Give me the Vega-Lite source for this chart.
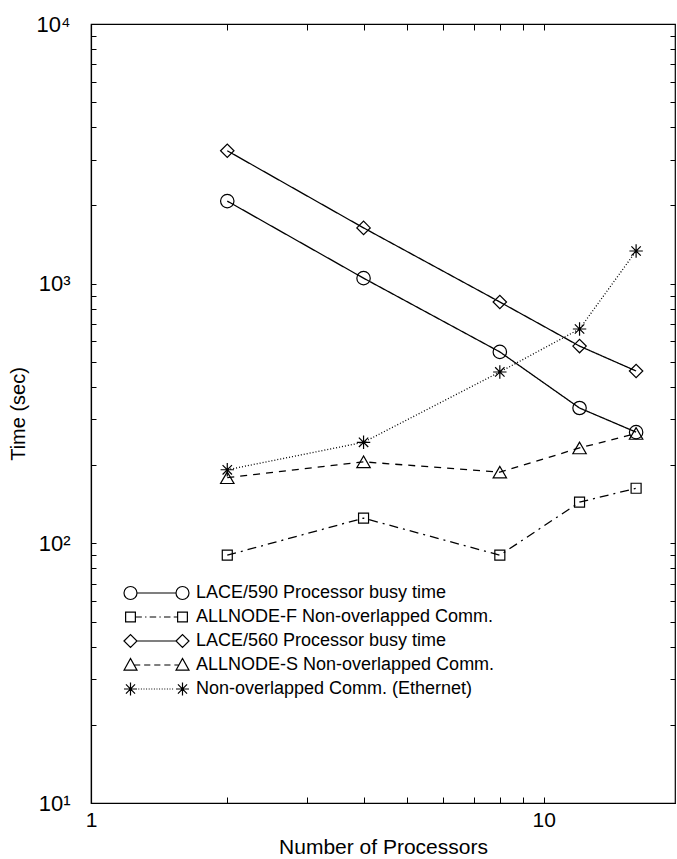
{
  "$schema": "https://vega.github.io/schema/vega-lite/v6.json",
  "width": 584,
  "height": 779,
  "autosize": {"type": "none"},
  "padding": {"left": 91, "top": 24, "right": 2, "bottom": 56},
  "background": "white",
  "config": {
    "font": "Liberation Sans",
    "view": {"stroke": "black", "strokeWidth": 1.2},
    "axis": {"grid": false, "domainColor": "black", "domainWidth": 1.2, "tickColor": "black", "tickWidth": 1, "labelColor": "black", "titleColor": "black", "labelFont": "Liberation Sans", "titleFont": "Liberation Sans", "titleFontWeight": "normal"}
  },
  "data": {
    "values": [
      {"n": 2, "t": 2080, "s": "LACE/590 Processor busy time"},
      {"n": 4, "t": 1050, "s": "LACE/590 Processor busy time"},
      {"n": 8, "t": 546, "s": "LACE/590 Processor busy time"},
      {"n": 12, "t": 332, "s": "LACE/590 Processor busy time"},
      {"n": 16, "t": 268, "s": "LACE/590 Processor busy time"},
      {"n": 2, "t": 90, "s": "ALLNODE-F Non-overlapped Comm."},
      {"n": 4, "t": 125, "s": "ALLNODE-F Non-overlapped Comm."},
      {"n": 8, "t": 90, "s": "ALLNODE-F Non-overlapped Comm."},
      {"n": 12, "t": 144, "s": "ALLNODE-F Non-overlapped Comm."},
      {"n": 16, "t": 163, "s": "ALLNODE-F Non-overlapped Comm."},
      {"n": 2, "t": 3250, "s": "LACE/560 Processor busy time"},
      {"n": 4, "t": 1640, "s": "LACE/560 Processor busy time"},
      {"n": 8, "t": 850, "s": "LACE/560 Processor busy time"},
      {"n": 12, "t": 575, "s": "LACE/560 Processor busy time"},
      {"n": 16, "t": 461, "s": "LACE/560 Processor busy time"},
      {"n": 2, "t": 179, "s": "ALLNODE-S Non-overlapped Comm."},
      {"n": 4, "t": 206, "s": "ALLNODE-S Non-overlapped Comm."},
      {"n": 8, "t": 188, "s": "ALLNODE-S Non-overlapped Comm."},
      {"n": 12, "t": 233, "s": "ALLNODE-S Non-overlapped Comm."},
      {"n": 16, "t": 265, "s": "ALLNODE-S Non-overlapped Comm."},
      {"n": 2, "t": 192, "s": "Non-overlapped Comm. (Ethernet)"},
      {"n": 4, "t": 245, "s": "Non-overlapped Comm. (Ethernet)"},
      {"n": 8, "t": 457, "s": "Non-overlapped Comm. (Ethernet)"},
      {"n": 12, "t": 669, "s": "Non-overlapped Comm. (Ethernet)"},
      {"n": 16, "t": 1336, "s": "Non-overlapped Comm. (Ethernet)"}
    ]
  },
  "resolve": {"axis": {"x": "independent", "y": "independent"}, "scale": {"shape": "independent"}, "legend": {"shape": "independent"}},
  "layer": [
    {
      "mark": {"type": "line", "color": "black", "strokeWidth": 1.3},
      "encoding": {
        "x": {"field": "n", "type": "quantitative", "scale": {"type": "log", "domain": [1, 19.5], "nice": false, "zero": false},
          "axis": {"orient": "bottom", "title": "Number of Processors", "titleFontSize": 21, "titlePadding": 6, "values": [1, 2, 3, 4, 5, 6, 7, 8, 9, 10], "labelExpr": "datum.value === 1 ? '1' : datum.value === 10 ? '10' : ''", "labelFontSize": 21, "tickSize": -6, "labelPadding": 12, "labelFlush": false}},
        "y": {"field": "t", "type": "quantitative", "scale": {"type": "log", "domain": [10, 10000], "nice": false, "zero": false},
          "axis": {"orient": "left", "title": "Time (sec)", "titleFontSize": 20, "titlePadding": 8, "values": [10, 20, 30, 40, 50, 60, 70, 80, 90, 100, 200, 300, 400, 500, 600, 700, 800, 900, 1000, 2000, 3000, 4000, 5000, 6000, 7000, 8000, 9000, 10000], "labelExpr": "datum.value === 10 ? '10¹' : datum.value === 100 ? '10²' : datum.value === 1000 ? '10³' : datum.value === 10000 ? '10⁴' : ''", "labelFontSize": 22, "tickSize": -5, "labelPadding": 26, "labelFlush": false}},
        "detail": {"field": "s"},
        "strokeDash": {"field": "s", "type": "nominal", "legend": null,
          "scale": {"range": [[9, 5, 2, 5], [7, 6], [1, 0], [1, 0], [1, 2]]}}
      }
    },
    {
      "mark": {"type": "point", "filled": false, "color": "black", "strokeWidth": 1.2, "opacity": 1},
      "encoding": {
        "x": {"field": "n", "type": "quantitative", "scale": {"type": "log", "domain": [1, 19.5], "nice": false, "zero": false}, "axis": null},
        "y": {"field": "t", "type": "quantitative", "scale": {"type": "log", "domain": [10, 10000], "nice": false, "zero": false}, "axis": null},
        "size": {"condition": {"test": "datum.s === 'ALLNODE-F Non-overlapped Comm.'", "value": 100}, "value": 180},
        "shape": {"field": "s", "type": "nominal", "legend": null,
          "scale": {"range": ["square", "triangle-up", "diamond", "circle", "M-1,0H1M0,-1V1M-0.7,-0.7L0.7,0.7M-0.7,0.7L0.7,-0.7"]}}
      }
    },
    {
      "mark": {"type": "point", "opacity": 0},
      "encoding": {
        "x": {"field": "n", "type": "quantitative", "scale": {"type": "log", "domain": [1, 19.5], "nice": false, "zero": false},
          "axis": {"orient": "top", "title": null, "labels": false, "domain": false, "values": [1, 2, 3, 4, 5, 6, 7, 8, 9, 10], "tickSize": -6}},
        "y": {"field": "t", "type": "quantitative", "scale": {"type": "log", "domain": [10, 10000], "nice": false, "zero": false},
          "axis": {"orient": "right", "title": null, "labels": false, "domain": false, "values": [10, 20, 30, 40, 50, 60, 70, 80, 90, 100, 200, 300, 400, 500, 600, 700, 800, 900, 1000, 2000, 3000, 4000, 5000, 6000, 7000, 8000, 9000, 10000], "tickSize": -5}}
      }
    },
    {
      "transform": [{"filter": "false"}],
      "mark": {"type": "point", "filled": false, "color": "black", "strokeWidth": 1.2},
      "encoding": {
        "shape": {"field": "s", "type": "nominal",
          "scale": {"domain": ["LACE/590 Processor busy time", "ALLNODE-F Non-overlapped Comm.", "LACE/560 Processor busy time", "ALLNODE-S Non-overlapped Comm.", "Non-overlapped Comm. (Ethernet)"],
            "range": [
              "M-0.6,0A0.2,0.2,0,1,1,-1,0A0.2,0.2,0,1,1,-0.6,0ZM-0.6,0L0.6,0M1,0A0.2,0.2,0,1,1,0.6,0A0.2,0.2,0,1,1,1,0Z",
              "M-0.95,-0.15H-0.65V0.15H-0.95ZM-0.65,0H-0.45M-0.35,0H-0.31M-0.21,0H-0.01M0.09,0H0.13M0.23,0H0.43M0.53,0H0.65M0.65,-0.15H0.95V0.15H0.65Z",
              "M-1,0L-0.8,-0.2L-0.6,0L-0.8,0.2ZM-0.6,0H0.6M0.6,0L0.8,-0.2L1,0L0.8,0.2Z",
              "M-1,0.16L-0.8,-0.2L-0.6,0.16ZM-0.69,0H-0.5M-0.38,0H-0.19M-0.07,0H0.12M0.24,0H0.43M0.55,0H0.69M0.6,0.16L0.8,-0.2L1,0.16Z",
              "M-1,0H-0.6M-0.8,-0.2V0.2M-0.94,-0.14L-0.66,0.14M-0.94,0.14L-0.66,-0.14M-0.56,0H-0.53M-0.48,0H-0.45M-0.4,0H-0.37M-0.32,0H-0.29M-0.24,0H-0.21M-0.16,0H-0.13M-0.08,0H-0.05M0,0H0.03M0.08,0H0.11M0.16,0H0.19M0.24,0H0.27M0.32,0H0.35M0.4,0H0.43M0.48,0H0.51M0.6,0H1M0.8,-0.2V0.2M0.66,-0.14L0.94,0.14M0.66,0.14L0.94,-0.14"
            ]},
          "legend": {
            "title": null, "orient": "none", "legendX": 32, "legendY": 557,
            "labelFontSize": 18, "labelFont": "Liberation Sans", "labelColor": "black", "labelOffset": 6, "labelLimit": 0,
            "symbolSize": 4225, "clipHeight": 24, "symbolStrokeColor": "black", "symbolStrokeWidth": 1.2, "symbolFillColor": "transparent", "symbolOpacity": 1, "rowPadding": 0, "padding": 0
          }
        }
      }
    }
  ]
}
